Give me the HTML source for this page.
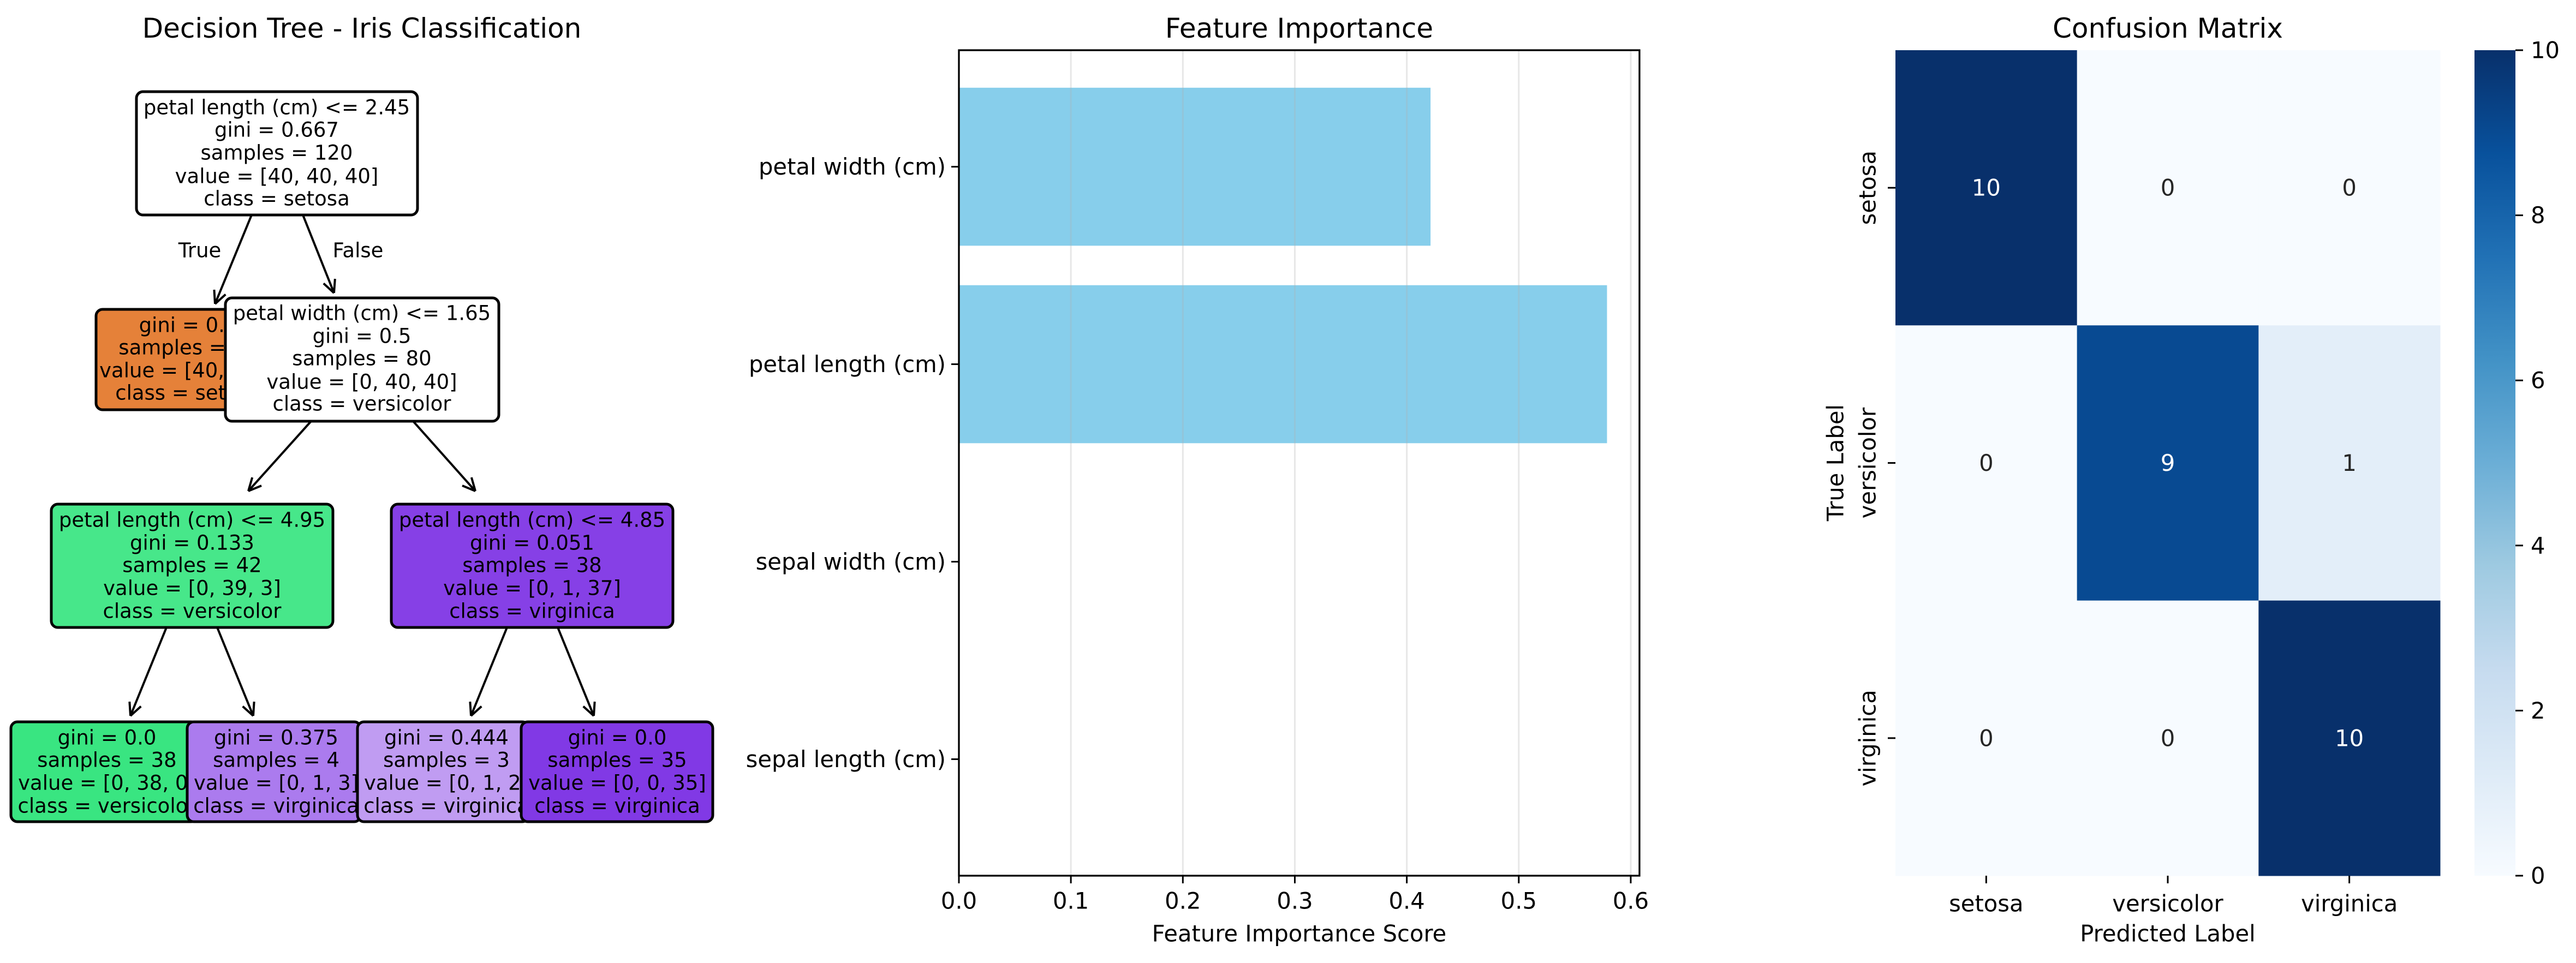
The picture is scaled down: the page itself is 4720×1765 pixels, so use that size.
<!DOCTYPE html>
<html><head><meta charset="utf-8"><style>
html,body{margin:0;padding:0;background:#fff}
svg{display:block}
text{font-family:"DejaVu Sans","Liberation Sans",sans-serif;fill:#000}
</style></head><body>
<svg id="fig" xmlns="http://www.w3.org/2000/svg" width="4720" height="1765" viewBox="0 0 4720 1765">
<rect width="4720" height="1765" fill="#fff"/>
<g id="tree"></g>
<g id="bars"></g>
<g id="cm"></g>
</svg>
<script>
// ---------- data ----------
const features = ["sepal length (cm)", "sepal width (cm)", "petal length (cm)", "petal width (cm)"];
const importances = [0.0, 0.0, 0.5788, 0.4212];
const xTicks = [0.0, 0.1, 0.2, 0.3, 0.4, 0.5, 0.6];
const classes = ["setosa", "versicolor", "virginica"];
const cmRow0 = [10, 0, 0];
const cmRow1 = [0, 9, 1];
const cmRow2 = [0, 0, 10];
const cbTicks = [0, 2, 4, 6, 8, 10];

const NS = "http://www.w3.org/2000/svg";
function el(tag, attrs, parent, txt) {
  const e = document.createElementNS(NS, tag);
  for (const k in attrs) e.setAttribute(k, attrs[k]);
  if (txt !== undefined) e.textContent = txt;
  parent.appendChild(e);
  return e;
}

// ---------- Decision tree ----------
const tg = document.getElementById('tree');
let t = el('text', {x: 663, y: 52, 'font-size': 50, 'text-anchor': 'middle', 'dominant-baseline': 'central'}, tg, "Decision Tree - Iris Classification");



const nodes = [
  {x1:250,x2:765,y1:168,y2:394,cx:507,ly:[197,238,280,323,364],fill:"#ffffff",lines:["petal length (cm) <= 2.45","gini = 0.667","samples = 120","value = [40, 40, 40]","class = setosa"],name:"root-node"},
  {x1:176,x2:514,y1:567,y2:751,cx:345,ly:[596,637,679,720],fill:"#e58139",lines:["gini = 0.0","samples = 40","value = [40, 0, 0]","class = setosa"],name:"setosa-leaf"},
  {x1:413,x2:914,y1:546,y2:772,cx:663,ly:[574,616,657,700,740],fill:"#ffffff",lines:["petal width (cm) <= 1.65","gini = 0.5","samples = 80","value = [0, 40, 40]","class = versicolor"],name:"petal-width-node"},
  {x1:94,x2:610,y1:924,y2:1150,cx:352,ly:[953,995,1036,1078,1120],fill:"#47e78a",lines:["petal length (cm) <= 4.95","gini = 0.133","samples = 42","value = [0, 39, 3]","class = versicolor"],name:"versicolor-split-node"},
  {x1:20,x2:362,y1:1323,y2:1506,cx:196,ly:[1352,1393,1435,1477],fill:"#39e581",lines:["gini = 0.0","samples = 38","value = [0, 38, 0]","class = versicolor"],name:"leaf-versicolor-38"},
  {x1:343,x2:661,y1:1323,y2:1506,cx:506,ly:[1352,1393,1435,1477],fill:"#ab7bee",lines:["gini = 0.375","samples = 4","value = [0, 1, 3]","class = virginica"],name:"leaf-virginica-4"},
  {x1:717,x2:1233,y1:924,y2:1150,cx:975,ly:[953,995,1036,1078,1120],fill:"#8640e6",lines:["petal length (cm) <= 4.85","gini = 0.051","samples = 38","value = [0, 1, 37]","class = virginica"],name:"virginica-split-node"},
  {x1:655,x2:969,y1:1323,y2:1506,cx:818,ly:[1352,1393,1435,1477],fill:"#c09cf2",lines:["gini = 0.444","samples = 3","value = [0, 1, 2]","class = virginica"],name:"leaf-virginica-3"},
  {x1:955,x2:1306,y1:1323,y2:1506,cx:1131,ly:[1352,1393,1435,1477],fill:"#8139e5",lines:["gini = 0.0","samples = 35","value = [0, 0, 35]","class = virginica"],name:"leaf-virginica-35"}
];
const edges = [
  [461,394,394,557],[555,394,612,537],
  [570,772,455,900],[757,772,871,900],
  [305,1150,239,1312],[398,1150,464,1312],
  [929,1150,863,1312],[1022,1150,1088,1312]
];
edges.forEach(e => {
  const g = el('g', {}, tg);
  
  
  el('line', {x1:e[0],y1:e[1],x2:e[2],y2:e[3],stroke:'#000','stroke-width':4}, g);
  const dx = e[2]-e[0], dy = e[3]-e[1], L = Math.hypot(dx,dy), ux = dx/L, uy = dy/L;
  const a = 0.45, len = 26;
  [a,-a].forEach(s => {
    const c = Math.cos(s), sn = Math.sin(s);
    const rx = -(ux*c - uy*sn), ry = -(ux*sn + uy*c);
    el('line', {x1:e[2],y1:e[3],x2:e[2]+rx*len,y2:e[3]+ry*len,stroke:'#000','stroke-width':4}, g);
  });
});
t = el('text', {x:366,y:459,'font-size':37,'text-anchor':'middle','dominant-baseline':'central'}, tg, "True");


t = el('text', {x:656,y:459,'font-size':37,'text-anchor':'middle','dominant-baseline':'central'}, tg, "False");


nodes.forEach(n => {
  const g = el('g', {}, tg);
  
  
  el('rect', {x:n.x1,y:n.y1,width:n.x2-n.x1,height:n.y2-n.y1,rx:12,fill:n.fill,stroke:'#000','stroke-width':5}, g);
  n.lines.forEach((s,i) => {
    el('text', {x:n.cx,y:n.ly[i],'font-size':37,'text-anchor':'middle','dominant-baseline':'central'}, g, s);
  });
});

// ---------- Feature importance ----------
const bg = document.getElementById('bars');
const AX = {l:1757, r:3004, t:92, b:1605};
const xs = v => AX.l + (v - 0) * (2988 - 1757) / 0.6;
const yMin = -0.59, yMax = 3.59;
const ys = v => AX.b - (v - yMin) / (yMax - yMin) * (AX.b - AX.t);
t = el('text', {x:(AX.l+AX.r)/2,y:52,'font-size':50,'text-anchor':'middle','dominant-baseline':'central'}, bg, "Feature Importance");


features.forEach((f,i) => {
  const v = importances[i];
  const r = el('rect', {x:xs(0), y:ys(i+0.4), width:Math.max(0, xs(v)-xs(0)), height:ys(i-0.4)-ys(i+0.4), fill:'#87ceeb'}, bg);
  
  
  el('line', {x1:AX.l-14,x2:AX.l,y1:ys(i),y2:ys(i),stroke:'#000','stroke-width':3}, bg);
  const lt = el('text', {x:AX.l-24,y:ys(i),'font-size':41.7,'text-anchor':'end','dominant-baseline':'central'}, bg, f);
  
  
});
xTicks.forEach(v => {
  const gl = el('line', {x1:xs(v),x2:xs(v),y1:AX.t,y2:AX.b,stroke:'#b0b0b0','stroke-opacity':0.3,'stroke-width':3}, bg);
  
  
  el('line', {x1:xs(v),x2:xs(v),y1:AX.b,y2:AX.b+14,stroke:'#000','stroke-width':3}, bg);
  const lt = el('text', {x:xs(v),y:AX.b+46,'font-size':41.7,'text-anchor':'middle','dominant-baseline':'central'}, bg, v.toFixed(1));
  
  
});
const fr = el('rect', {x:AX.l,y:AX.t,width:AX.r-AX.l,height:AX.b-AX.t,fill:'none',stroke:'#000','stroke-width':3.3}, bg);


t = el('text', {x:(AX.l+AX.r)/2,y:1711,'font-size':41.7,'text-anchor':'middle','dominant-baseline':'central'}, bg, "Feature Importance Score");



// ---------- Confusion matrix ----------
const cg = document.getElementById('cm');
const H = {l:3473, r:4471, t:92, b:1605};
const cw = (H.r-H.l)/3, ch = (H.b-H.t)/3;
const blues = ["#f7fbff","#deebf7","#c6dbef","#9ecae1","#6baed6","#4292c6","#2171b5","#08519c","#08306b"];
function hex2rgb(h){return [1,3,5].map(i=>parseInt(h.substr(i,2),16));}
function blue(v){
  const p = Math.max(0,Math.min(1,v/10))*(blues.length-1);
  const i = Math.min(blues.length-2, Math.floor(p)), f = p - i;
  const a = hex2rgb(blues[i]), b = hex2rgb(blues[i+1]);
  return 'rgb(' + a.map((c,k)=>Math.round(c+(b[k]-c)*f)).join(',') + ')';
}
t = el('text', {x:(H.l+H.r)/2,y:52,'font-size':50,'text-anchor':'middle','dominant-baseline':'central'}, cg, "Confusion Matrix");


const rows = [cmRow0, cmRow1, cmRow2];
rows.forEach((row, ri) => {
  row.forEach((v, ci) => {
    const c = el('rect', {x:H.l+ci*cw, y:H.t+ri*ch, width:cw+0.5, height:ch+0.5, fill:blue(v)}, cg);
    
    
    const a = el('text', {x:H.l+(ci+0.5)*cw, y:H.t+(ri+0.5)*ch, 'font-size':41.7, 'text-anchor':'middle', 'dominant-baseline':'central', style:'fill:' + (v > 5 ? '#ffffff' : '#262626')}, cg, String(v));
    
    
  });
});
classes.forEach((c, i) => {
  const x = H.l+(i+0.5)*cw, y = H.t+(i+0.5)*ch;
  el('line', {x1:x,x2:x,y1:H.b,y2:H.b+14,stroke:'#000','stroke-width':3}, cg);
  let lt = el('text', {x:x,y:1656,'font-size':41.7,'text-anchor':'middle','dominant-baseline':'central'}, cg, c);
  
  
  el('line', {x1:H.l-14,x2:H.l,y1:y,y2:y,stroke:'#000','stroke-width':3}, cg);
  lt = el('text', {x:3422,y:y,'font-size':41.7,'text-anchor':'middle','dominant-baseline':'central',transform:'rotate(-90 3422 ' + y + ')'}, cg, c);
  
  
});
t = el('text', {x:(H.l+H.r)/2,y:1711,'font-size':41.7,'text-anchor':'middle','dominant-baseline':'central'}, cg, "Predicted Label");


t = el('text', {x:3363,y:848,'font-size':41.7,'text-anchor':'middle','dominant-baseline':'central',transform:'rotate(-90 3363 848)'}, cg, "True Label");



// colorbar
const CB = {l:4534, r:4609, t:92, b:1605};
const defs = el('defs', {}, cg);
const grad = el('linearGradient', {id:'bluesGrad', x1:0, y1:1, x2:0, y2:0}, defs);
blues.forEach((c,i) => el('stop', {offset:(i/(blues.length-1)), 'stop-color':c}, grad));
const cb = el('rect', {x:CB.l,y:CB.t,width:CB.r-CB.l,height:CB.b-CB.t,fill:'url(#bluesGrad)'}, cg);


const cbs = v => CB.b - v/10*(CB.b-CB.t);
cbTicks.forEach(v => {
  el('line', {x1:CB.r,x2:CB.r+14,y1:cbs(v),y2:cbs(v),stroke:'#000','stroke-width':3}, cg);
  const lt = el('text', {x:CB.r+28,y:cbs(v),'font-size':41.7,'dominant-baseline':'central'}, cg, String(v));
  
  
});
</script>
</body></html>
